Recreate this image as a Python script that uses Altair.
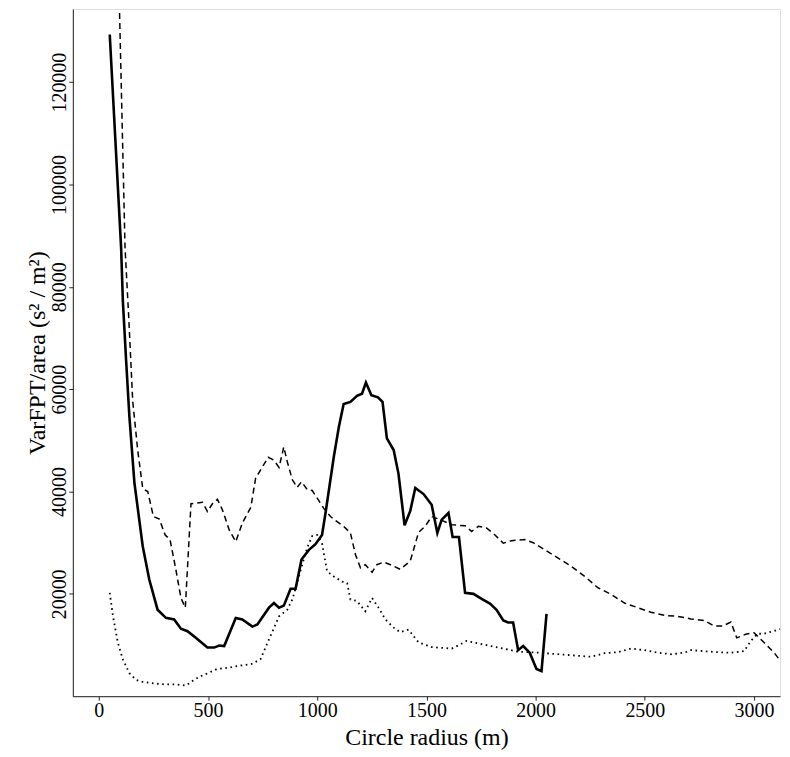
import altair as alt
import pandas as pd

# ---- data ----
solid_x = [50, 102, 110, 125, 140, 163, 201, 231, 269, 307, 345, 376, 406, 444, 497, 528, 551, 574,
           627, 657, 703, 726, 779, 802, 825, 847, 878, 901, 928, 962, 992, 1022, 1038, 1076, 1099,
           1121, 1152, 1182, 1205, 1223, 1248, 1278, 1299, 1319, 1350, 1372, 1400, 1426, 1449, 1487,
           1524, 1550, 1570, 1601, 1620, 1649, 1677, 1715, 1753, 1791, 1821, 1852, 1874, 1897, 1920,
           1943, 1973, 2004, 2027, 2050]
solid_y = [129300, 87700, 77300, 65600, 54600, 41700, 29300, 22800, 16900, 15300, 15000, 13200, 12700,
           11400, 9500, 9500, 9900, 9800, 15300, 15000, 13600, 14000, 17300, 18200, 17300, 17700, 21000,
           21000, 26700, 28600, 29700, 31500, 35800, 46800, 52600, 57100, 57500, 58700, 59100, 61300,
           58800, 58400, 57500, 50400, 48100, 43500, 33400, 36200, 40700, 39500, 37400, 31900, 34500,
           35800, 31100, 31100, 20200, 20000, 19000, 18100, 16900, 14800, 14400, 14400, 9000, 9800,
           8500, 5300, 4900, 16100]

dash_x = [95, 120, 137, 155, 178, 201, 224, 250, 277, 304, 326, 353, 376, 396, 422, 444, 475, 497, 520,
          543, 566, 597, 627, 657, 696, 718, 749, 776, 802, 825, 847, 863, 886, 908, 928, 954, 977,
          1000, 1030, 1061, 1091, 1121, 1152, 1175, 1198, 1220, 1251, 1273, 1304, 1335, 1380, 1426,
          1464, 1494, 1524, 1563, 1616, 1677, 1707, 1738, 1775, 1814, 1852, 1890, 1951, 1989, 2042,
          2103, 2163, 2225, 2285, 2346, 2407, 2468, 2528, 2590, 2650, 2711, 2772, 2818, 2856, 2894,
          2921, 2962, 3000, 3046, 3092, 3119]
dash_y = [133500, 87700, 74000, 57800, 48100, 40600, 40000, 35100, 34600, 31500, 30600, 24700, 19200,
          17300, 37600, 37700, 37900, 36100, 37600, 38500, 36400, 32500, 30200, 33800, 36900, 42600,
          44800, 46700, 46100, 44700, 48700, 45800, 42300, 40800, 41900, 40400, 40200, 38700, 36700,
          35100, 34100, 33200, 31900, 27700, 25100, 25700, 24200, 25700, 26200, 25700, 24800, 26400,
          32000, 33200, 35100, 34500, 33500, 33300, 32200, 33200, 32900, 31500, 29900, 30400, 30600,
          30000, 28600, 27000, 25400, 23400, 21200, 19900, 18200, 17300, 16400, 15800, 15600, 15100,
          14800, 13700, 13700, 14500, 11400, 12100, 12400, 10500, 8500, 7000]

dot_x = [50, 65, 87, 110, 140, 170, 200, 250, 300, 350, 400, 430, 460, 500, 540, 600, 650, 700, 740,
         779, 825, 863, 886, 908, 931, 954, 977, 1000, 1022, 1045, 1076, 1114, 1137, 1152, 1182, 1220,
         1251, 1281, 1312, 1350, 1380, 1418, 1464, 1524, 1616, 1654, 1684, 1738, 1829, 1920, 2011,
         2103, 2194, 2255, 2316, 2376, 2437, 2498, 2559, 2620, 2681, 2711, 2772, 2833, 2894, 2955,
         2985, 3016, 3046, 3119]
dot_y = [20200, 15600, 10500, 7200, 4500, 3200, 2800, 2500, 2300, 2300, 2100, 3000, 3800, 4500, 5300,
         5600, 6000, 6300, 7200, 11100, 15600, 16900, 18900, 22100, 25700, 29000, 31300, 31500, 29900,
         24400, 23400, 22400, 22100, 18900, 18600, 16600, 19200, 17300, 15000, 13400, 12500, 13000,
         10500, 9600, 9300, 10100, 10800, 10300, 9500, 8700, 8500, 8200, 7900, 7700, 8400, 8600, 9300,
         9000, 8500, 8200, 8500, 9000, 8800, 8600, 8500, 8800, 10800, 12200, 12200, 13100]

x_ticks = [0, 500, 1000, 1500, 2000, 2500, 3000]
y_ticks = [20000, 40000, 60000, 80000, 100000, 120000]

W, H = 709, 689
FONT = "Liberation Serif"

xscale = alt.Scale(domain=[-119, 3119], nice=False, zero=False)
yscale = alt.Scale(domain=[0, 134300], nice=False, zero=False)

xaxis = alt.Axis(values=x_ticks, format="d", title="Circle radius (m)", grid=False,
                 labelFont=FONT, labelFontSize=20, labelColor="black",
                 labelBaseline="alphabetic", labelPadding=16.5,
                 tickSize=4, tickColor="#222", domainColor="#222",
                 titleFont=FONT, titleFontSize=24, titleFontWeight="normal", titleColor="black",
                 titleBaseline="alphabetic", titleX=W / 2, titleY=48, titleAlign="center")
yaxis = alt.Axis(values=y_ticks, format="d", title="VarFPT/area (s² / m²)", grid=False,
                 labelFont=FONT, labelFontSize=20, labelColor="black",
                 labelAngle=-90, labelAlign="center", labelBaseline="alphabetic",
                 labelPadding=3, tickSize=4, tickColor="#222", domainColor="#222",
                 titleFont=FONT, titleFontSize=24, titleFontWeight="normal", titleColor="black",
                 titleAngle=-90, titleAlign="center", titleBaseline="alphabetic",
                 titleX=-28, titleY=H / 2)

solid_df = pd.DataFrame({"r": solid_x, "v": solid_y})
dash_df = pd.DataFrame({"r": dash_x, "v": dash_y})
dot_df = pd.DataFrame({"r": dot_x, "v": dot_y})

solid = alt.Chart(solid_df).mark_line(color="black", strokeWidth=2.6, clip=True).encode(
    x=alt.X("r:Q", scale=xscale, axis=xaxis),
    y=alt.Y("v:Q", scale=yscale, axis=yaxis),
    order="r:Q",
)
dashed = alt.Chart(dash_df).mark_line(color="black", strokeWidth=1.5, strokeDash=[6, 4], clip=True).encode(
    x=alt.X("r:Q", scale=xscale),
    y=alt.Y("v:Q", scale=yscale),
    order="r:Q",
)
dotted = alt.Chart(dot_df).mark_line(color="black", strokeWidth=1.8, strokeDash=[1.6, 3.6], clip=True).encode(
    x=alt.X("r:Q", scale=xscale),
    y=alt.Y("v:Q", scale=yscale),
    order="r:Q",
)

chart = alt.layer(solid, dashed, dotted).properties(
    width=W, height=H,
    autosize=alt.AutoSizeParams(type="none"),
    padding={"left": 65, "top": 0, "right": 2, "bottom": 60},
).configure_view(stroke=None).configure(background="white")

chart.save("out.html", embed_options={"renderer": "svg", "actions": False})
